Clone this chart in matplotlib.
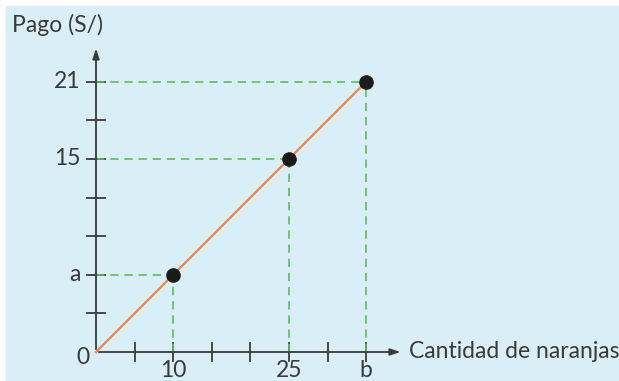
import numpy as np
import matplotlib.pyplot as plt
from matplotlib.patches import Rectangle

# datos
cantidad = [0, 10, 25, 35]
pago = [0, 6, 15, 21]
puntos_x = [10, 25, 35]
puntos_y = [6, 15, 21]
xticks = [5, 10, 15, 20, 25, 30, 35]
yticks = [3, 6, 9, 12, 15, 18, 21]
xlabels = {10: '10', 25: '25', 35: 'b'}
ylabels = {6: 'a', 15: '15', 21: '21'}

plt.rcParams['font.family'] = ['Lato', 'DejaVu Sans']

fig = plt.figure(figsize=(6.19, 3.81), dpi=100)
fig.patches.append(Rectangle((6 / 619, 0), 1, 1 - 6 / 381, transform=fig.transFigure,
                             color='#d9eef7', zorder=-10))
ax = fig.add_axes([0, 0, 1, 1])
ax.set_facecolor('none')
ax.set_xlim(-96 / 7.72, (619 - 96) / 7.72)
ax.set_ylim(-(381 - 352) / 12.87, 352 / 12.87)
ax.axis('off')

axc = '#3a3a3a'
green = '#5cbf5c'
# ejes con flechas
ax.annotate('', xy=(39.8, 0), xytext=(0, 0),
            arrowprops=dict(arrowstyle='-|>,head_width=0.2,head_length=0.6', color=axc, lw=1.3))
ax.annotate('', xy=(0, 23.8), xytext=(0, 0),
            arrowprops=dict(arrowstyle='-|>,head_width=0.2,head_length=0.6', color=axc, lw=1.3))

for t in xticks:
    ax.plot([t, t], [-0.7, 0.7], color=axc, lw=1.3)
for t in yticks:
    ax.plot([-1.2, 1.2], [t, t], color=axc, lw=1.3)

# guias punteadas
for x, y in zip(puntos_x, puntos_y):
    ax.plot([0, x], [y, y], color=green, lw=1.2, dashes=(5, 3.5))
    ax.plot([x, x], [0, y], color=green, lw=1.2, dashes=(5, 3.5))

ax.plot(cantidad, pago, color='#e8874a', lw=1.6)
ax.plot(puntos_x, puntos_y, 'o', color='#1a1a1a', ms=9.5, zorder=5)

fs = 16.5
for t, s in xlabels.items():
    ax.text(t, -0.6, s, ha='center', va='top', fontsize=fs, color=axc)
for t, s in ylabels.items():
    ax.text(-2.0, t, s, ha='right', va='center', fontsize=fs, color=axc)
ax.text(-0.8, -0.4, '0', ha='right', va='center', fontsize=fs, color=axc)
ax.text(40.6, 0, 'Cantidad de naranjas', ha='left', va='center', fontsize=fs, color=axc)
ax.text(-10.9, 25.4, 'Pago (S/)', ha='left', va='center', fontsize=fs, color=axc)

fig.savefig('out.png', dpi=100)
